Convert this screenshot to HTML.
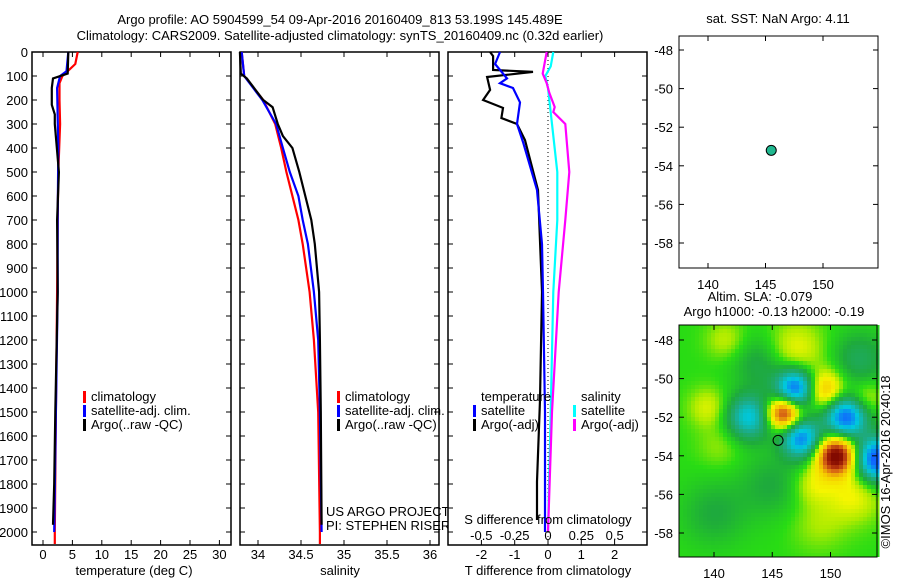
<!DOCTYPE html>
<html><head><meta charset="utf-8"><style>
html,body{margin:0;padding:0;background:#fff;}
svg{display:block;font-family:"Liberation Sans",sans-serif;font-size:13px;}
</style></head><body>
<svg id="c" width="900" height="580" viewBox="0 0 900 580"></svg>
<script>
// ---- data ----
const tDepth = [0,50,80,100,130,200,300,500,700,1000,1500,2000,2050];
const tClim = [5.9,5.5,4.2,3.3,2.8,2.8,2.9,2.6,2.5,2.4,2.2,2.0,2.0];
const tSatDepth = [0,80,100,150,400,700,1000,1500,2000];
const tSat = [4.3,4.0,2.9,2.4,2.6,2.5,2.5,2.2,1.9];
const tArgoDepth = [0,90,110,150,220,260,300,500,700,1000,1500,1800,1970];
const tArgo = [4.3,4.2,1.7,1.5,1.5,2.0,2.0,2.7,2.4,2.5,2.1,1.9,1.7];
const sClimDepth = [0,100,200,300,400,500,700,800,1000,1200,1500,2000,2050];
const sClim = [33.81,33.84,34.06,34.2,34.27,34.33,34.47,34.52,34.6,34.65,34.7,34.72,34.72];
const sSatDepth = [0,100,200,300,400,500,600,700,800,1000,1200,1500,2000];
const sSat = [33.81,33.84,34.05,34.21,34.29,34.37,34.47,34.52,34.58,34.65,34.7,34.72,34.74];
const sArgoDepth = [0,90,110,200,230,300,350,400,500,600,700,800,1000,1200,1500,1970];
const sArgo = [33.79,33.8,33.87,34.06,34.17,34.23,34.29,34.4,34.48,34.55,34.62,34.66,34.71,34.72,34.73,34.74];
const dTArgoDepth = [0,17,75,83,104,158,200,233,275,300,367,575,1000,1450,1790,1950];
const dTArgo = [-1.74,-1.65,-1.65,-0.45,-1.83,-1.74,-1.95,-1.35,-1.4,-0.93,-0.69,-0.3,-0.18,-0.24,-0.33,-0.33];
const dTSatDepth = [0,50,110,130,150,210,300,375,575,800,1000,1500,2000];
const dTSat = [-1.44,-1.59,-1.23,-1.44,-1.05,-0.84,-0.93,-0.75,-0.33,-0.18,-0.15,-0.09,-0.09];
const dSSatDepth = [0,60,100,150,300,500,700,1000,1500,2000];
const dSSat = [0.04,0.02,-0.02,0.0,0.03,0.07,0.07,0.04,0.02,0.0];
const dSArgoDepth = [0,90,130,170,229,250,300,500,700,1000,1500,2000];
const dSArgo = [-0.01,-0.04,-0.01,0.01,0.05,0.04,0.13,0.16,0.13,0.08,0.03,0.0];
const floatLon = 145.5, floatLat = -53.2;
// SLA eddy field (lon, lat, amplitude m, radius deg lat)
const eddyLon = [147,151.3,147.5,154,143,146,150.5,149.5,147,152,139.5,141,144,152.5,145,140,149,153,140.5,148.5];
const eddyLat = [-50.5,-52,-53.1,-54.2,-52,-51.8,-54,-50.6,-48.5,-56,-51.5,-48,-49.2,-49,-55.5,-57,-57.5,-51,-53.5,-55.5];
const eddyAmp = [-0.45,-0.45,-0.4,-0.5,-0.3,0.45,0.55,0.25,0.12,0.12,0.1,0.08,-0.1,-0.12,-0.08,-0.08,0.06,0.1,0.05,0.1];
const eddyRad = [0.7,0.75,0.7,0.8,0.8,0.6,0.7,0.7,1.0,1.0,0.7,0.7,1.0,1.0,1.2,1.2,1.0,0.6,0.8,0.7];

// ---- helpers ----
const svg = document.getElementById('c');
const NS = 'http://www.w3.org/2000/svg';
function mk(tag, attrs, parent){const e=document.createElementNS(NS,tag);for(const k in attrs)e.setAttribute(k,attrs[k]);(parent||svg).appendChild(e);return e;}
function txt(x,y,s,anchor,parent){const t=mk('text',{x:x,y:y,'text-anchor':anchor||'start'},parent);t.textContent=s;return t;}
const yD = d => 52 + d*0.24;
const xT = v => 43 + v*5.88;
const xS = v => 258 + (v-34)*86;
const xdT = v => 548 + v*33.3;
const xdS = v => 548 + v*133.3;

function panelBox(x0,x1,name){
  const r=mk('rect',{x:x0,y:52,width:x1-x0,height:493,fill:'#fff',stroke:'#000','stroke-width':1.5});
  
}
function yTicks(x0,x1,labels){
  for(let d=0; d<=2000; d+=100){
    const y=yD(d);
    mk('line',{x1:x0,y1:y,x2:x0+5,y2:y,stroke:'#000'});
    mk('line',{x1:x1-5,y1:y,x2:x1,y2:y,stroke:'#000'});
    if(labels){const t=txt(28,y+5,String(d),'end');}
  }
}
function xTicks(vals,fx,labelY,fmt){
  vals.forEach(v=>{const x=fx(v);
    mk('line',{x1:x,y1:545,x2:x,y2:540,stroke:'#000'});
    mk('line',{x1:x,y1:52,x2:x,y2:57,stroke:'#000'});
    if(labelY){const t=txt(x,labelY,fmt?fmt(v):String(v),'middle');}
  });
}
function profile(depths,vals,fx,color,name){
  const pts=depths.map((d,i)=>fx(vals[i]).toFixed(1)+','+yD(d).toFixed(1)).join(' ');
  const p=mk('polyline',{points:pts,fill:'none',stroke:color,'stroke-width':2.2});
  
}
function legendEntry(x,y,color,label){
  mk('rect',{x:x,y:y-10,width:3,height:12,fill:color});
  const t=txt(x+8,y,label);
}

// titles
let t=txt(340,24,'Argo profile: AO 5904599_54 09-Apr-2016 20160409_813 53.199S 145.489E','middle');

t=txt(340,40,'Climatology: CARS2009. Satellite-adjusted climatology: synTS_20160409.nc (0.32d earlier)','middle');


// panel 1 temperature
panelBox(32,231,'temperature-panel');
yTicks(32,231,true);
xTicks([0,5,10,15,20,25,30],xT,559);
profile(tDepth,tClim,xT,'#f00','temp-climatology-line');
profile(tSatDepth,tSat,xT,'#00f','temp-satellite-line');
profile(tArgoDepth,tArgo,xT,'#000','temp-argo-line');
legendEntry(83,401,'#f00','climatology');
legendEntry(83,415,'#00f','satellite-adj. clim.');
legendEntry(83,429,'#000','Argo(..raw -QC)');
t=txt(134,575,'temperature (deg C)','middle');

// panel 2 salinity
panelBox(240,439,'salinity-panel');
yTicks(240,439,false);
xTicks([34,34.5,35,35.5,36],xS,559);
profile(sClimDepth,sClim,xS,'#f00','sal-climatology-line');
profile(sSatDepth,sSat,xS,'#00f','sal-satellite-line');
profile(sArgoDepth,sArgo,xS,'#000','sal-argo-line');
legendEntry(337,401,'#f00','climatology');
legendEntry(337,415,'#00f','satellite-adj. clim.');
legendEntry(337,429,'#000','Argo(..raw -QC)');
t=txt(326,516,'US ARGO PROJECT');
t=txt(326,530,'PI: STEPHEN RISER');
t=txt(340,575,'salinity','middle');

// panel 3 differences
panelBox(448,647,'difference-panel');
yTicks(448,647,false);
xTicks([-2,-1,0,1,2],xdT,559);
mk('line',{x1:548,y1:52,x2:548,y2:545,stroke:'#000','stroke-dasharray':'1,3'});
profile(dTArgoDepth,dTArgo,xdT,'#000','tdiff-argo-line');
profile(dTSatDepth,dTSat,xdT,'#00f','tdiff-satellite-line');
profile(dSSatDepth,dSSat,xdS,'#0ff','sdiff-satellite-line');
profile(dSArgoDepth,dSArgo,xdS,'#f0f','sdiff-argo-line');
t=txt(481,401,'temperature');
t=txt(581,401,'salinity');
legendEntry(473,415,'#00f','satellite');
legendEntry(473,429,'#000','Argo(-adj)');
legendEntry(573,415,'#0ff','satellite');
legendEntry(573,429,'#f0f','Argo(-adj)');
t=txt(548,524,'S difference from climatology','middle');
[-0.5,-0.25,0,0.25,0.5].forEach(v=>{const e=txt(xdS(v),540,String(v),'middle');});
t=txt(548,575,'T difference from climatology','middle');

// ---- maps ----
function mapAxes(x0,y0,w,h,fLon,fLat,name){
  const r=mk('rect',{x:x0,y:y0,width:w,height:h,fill:'none',stroke:'#000','stroke-width':1});
  
  [140,145,150].forEach(l=>{const x=fLon(l);
    mk('line',{x1:x,y1:y0+h,x2:x,y2:y0+h-5,stroke:'#000'});
    mk('line',{x1:x,y1:y0,x2:x,y2:y0+5,stroke:'#000'});
    const e=txt(x,y0+h+21,String(l),'middle');});
  [-48,-50,-52,-54,-56,-58].forEach(l=>{const y=fLat(l);
    mk('line',{x1:x0,y1:y,x2:x0+5,y2:y,stroke:'#000'});
    mk('line',{x1:x0+w-5,y1:y,x2:x0+w,y2:y,stroke:'#000'});
    const e=txt(x0-6,y+5,String(l),'end');});
}
// map 1
const m1Lon = l => 708 + (l-140)*11.5;
const m1Lat = l => 50 + (-48-l)*19.3;
mk('rect',{x:679,y:36,width:199,height:232,fill:'#fff'});
mapAxes(679,36,199,232,m1Lon,m1Lat,'sst-map');
t=txt(778,23,'sat. SST: NaN Argo: 4.11','middle');
let dot=mk('circle',{cx:m1Lon(floatLon),cy:m1Lat(floatLat),r:5,fill:'#20b890',stroke:'#000'});


// map 2 heatmap
const m2Lon = l => 714 + (l-140)*11.65;
const m2Lat = l => 340 + (-48-l)*19.3;
const stops=[[-0.45,[16,100,255]],[-0.3,[0,200,220]],[-0.18,[30,170,130]],[-0.08,[30,170,60]],[0,[40,220,20]],[0.06,[170,235,0]],[0.12,[245,245,0]],[0.22,[245,200,0]],[0.32,[220,110,20]],[0.42,[170,40,10]],[0.5,[130,10,0]]];
function cmap(v){
  if(v<=stops[0][0])return stops[0][1];
  for(let i=1;i<stops.length;i++){if(v<=stops[i][0]){const a=stops[i-1],b=stops[i],f=(v-a[0])/(b[0]-a[0]);return a[1].map((c,k)=>Math.round(c+(b[1][k]-c)*f));}}
  return stops[stops.length-1][1];
}
function field(lon,lat){
  let s=0;
  for(let i=0;i<eddyLon.length;i++){const dx=(lon-eddyLon[i])*0.6,dy=lat-eddyLat[i];s+=eddyAmp[i]*Math.exp(-(dx*dx+dy*dy)/(2*eddyRad[i]*eddyRad[i]));}
  return s;
}
const g=mk('g',{});

const cs=4;
for(let y=325;y<557;y+=cs){for(let x=679;x<877;x+=cs){
  const lon=140+(x+cs/2-714)/11.65, lat=-48-(y+cs/2-340)/19.3;
  const c=cmap(field(lon,lat));
  const r=mk('rect',{x:x,y:y,width:cs+0.5,height:Math.min(cs+0.5,557-y),fill:'rgb('+c.join(',')+')'},g);
  
  
}}
mapAxes(679,325,198,232,m2Lon,m2Lat,'sla-map');
dot=mk('circle',{cx:m2Lon(floatLon),cy:m2Lat(floatLat),r:5,fill:'none',stroke:'#000'});

t=txt(760,301,'Altim. SLA: -0.079','middle');
t=txt(774,316,'Argo h1000: -0.13 h2000: -0.19','middle');
t=txt(0,0,'©IMOS 16-Apr-2016 20:40:18','middle');
t.setAttribute('transform','translate(890,462) rotate(-90)');

</script>
</body></html>
